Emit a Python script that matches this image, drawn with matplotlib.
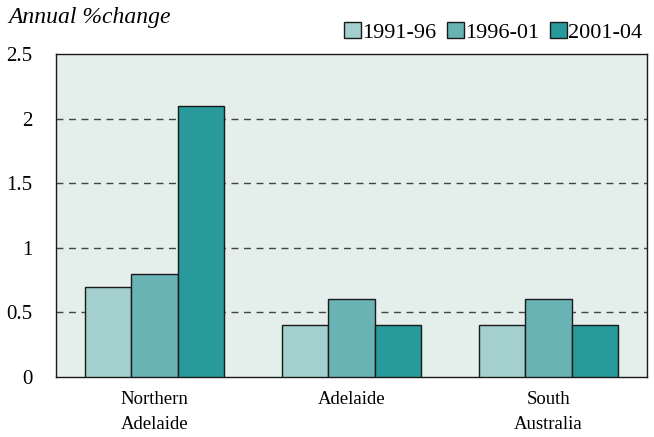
import matplotlib
matplotlib.use("Agg")
import matplotlib.pyplot as plt
import numpy as np

categories = ["Northern\nAdelaide", "Adelaide", "South\nAustralia"]
series_names = ["1991-96", "1996-01", "2001-04"]
v_1991_96 = [0.7, 0.4, 0.4]
v_1996_01 = [0.8, 0.6, 0.6]
v_2001_04 = [2.1, 0.4, 0.4]
colors = ["#A3CFCE", "#69B3B5", "#289A9C"]

plt.rcParams['font.family'] = ['Liberation Serif', 'DejaVu Serif']

fig = plt.figure(figsize=(6.54, 4.37), dpi=100)
ax = fig.add_axes([56/654, 1-377/437, 591/654, 323/437])
ax.set_facecolor("#E4EEEB")

x = np.arange(len(categories))
w = 0.234
for i, (vals, c, name) in enumerate(zip([v_1991_96, v_1996_01, v_2001_04], colors, series_names)):
    ax.bar(x + (i-1)*w, vals, width=w, color=c, edgecolor="#1a1a1a", linewidth=1.0, label=name, zorder=3)

ax.set_xlim(-0.5, 2.5)
ax.set_ylim(0, 2.5)
ax.set_yticks([0, 0.5, 1, 1.5, 2, 2.5])
ax.set_yticklabels(["0", "0.5", "1", "1.5", "2", "2.5"], fontsize=15)
ax.set_xticks(x)
ax.set_xticklabels(categories, fontsize=13.5, linespacing=1.6)
ax.tick_params(axis='x', length=0, pad=10)
ax.tick_params(axis='y', length=0, pad=17)
for y in [0.5, 1, 1.5, 2]:
    ax.axhline(y, color="#444444", linestyle=(0, (5, 4)), linewidth=1.0, zorder=1)
for s in ax.spines.values():
    s.set_color("#1a1a1a")
    s.set_linewidth(1.0)

fig.text(8/654, 1-18/437, "Annual %change", style="italic", fontsize=17, va="center", ha="left")
ax.legend(loc="lower right", bbox_to_anchor=(1.01, 1.0), ncol=3, frameon=False, fontsize=16,
          handlelength=0.75, handleheight=0.75, handletextpad=0.05, columnspacing=0.5,
          borderaxespad=0.3, borderpad=0.2)

fig.savefig("out.png", dpi=100)
